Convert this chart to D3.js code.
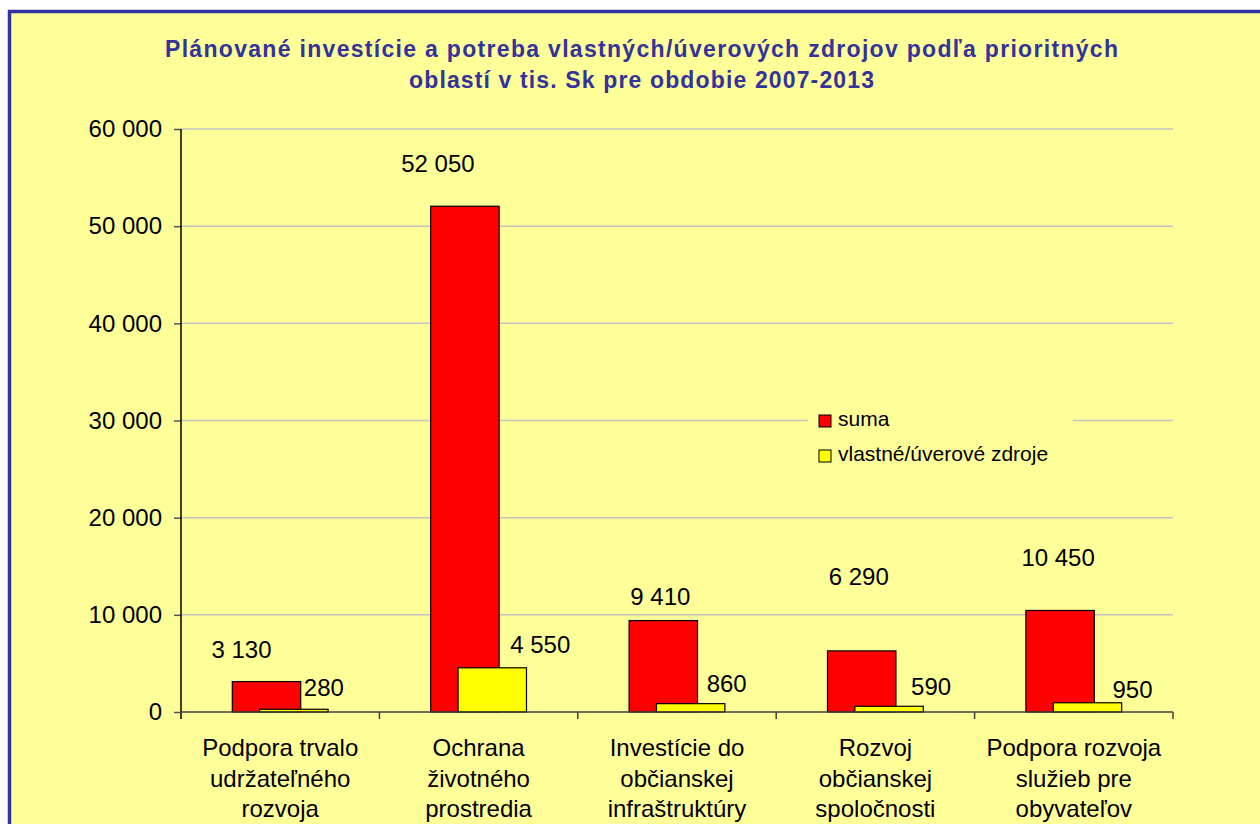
<!DOCTYPE html>
<html>
<head>
<meta charset="utf-8">
<script src="https://cdn.jsdelivr.net/npm/d3@7"></script>
<style>
    body { margin: 0; background: #fff; }
    svg { display: block; font-family: "Liberation Sans", Arial, sans-serif; }
</style>
</head>
<body>
<div id="chart"></div>
<script>
///////////////////////////
// DATA
///////////////////////////

const titleLines = [
    'Plánované investície a potreba vlastných/úverových zdrojov podľa prioritných',
    'oblastí v tis. Sk pre obdobie 2007-2013'
];

const categories = [
    ['Podpora trvalo', 'udržateľného', 'rozvoja'],
    ['Ochrana', 'životného', 'prostredia'],
    ['Investície do', 'občianskej', 'infraštruktúry'],
    ['Rozvoj', 'občianskej', 'spoločnosti'],
    ['Podpora rozvoja', 'služieb pre', 'obyvateľov']
];

const seriesNames = ['suma', 'vlastné/úverové zdroje'];
const suma = [3130, 52050, 9410, 6290, 10450];
const vlastne = [280, 4550, 860, 590, 950];
const yTicks = [0, 10000, 20000, 30000, 40000, 50000, 60000];

// label nudges (px) from the default spot above each bar, as placed by hand in the original
const sumaLabelShift = [[-25, -16], [-27, -26], [-3, -8], [-3, -58], [-2, -36]];
const vlastneLabelShift = [[30, -5], [48, -7], [36, -4], [42, -3], [45, 3]];

///////////////////////////
// LAYOUT
///////////////////////////

const width = 1260;
const height = 824;
const colors = ['#ff0000', '#ffff00'];

let svg = d3.select('#chart')
    .append('svg')
    .attr('width', width)
    .attr('height', height);

// chart area + frame
svg.append('rect')
    .attr('x', 9.5)
    .attr('y', 11.5)
    .attr('width', width + 20)
    .attr('height', height + 20)
    .style('fill', '#ffff99')
    .style('stroke', '#3333a0')
    .style('stroke-width', 3.5);

let x = d3.scaleBand()
    .domain(d3.range(categories.length))
    .range([181, 1173])
    .padding(0);

let y = d3.scaleLinear()
    .domain([0, 60000])
    .range([712, 129]);

// excel style: gap width 150%, overlap 60%
const barW = x.bandwidth() / 2.9;
const step = barW * 0.4;
const barX = (i, s) => { return x(i) + x.bandwidth() / 2 - barW / 2 + (s === 0 ? -step / 2 : step / 2) };

const fmt = (v) => { return d3.format(',')(v).replace(/,/g, ' ') };

///////////////////////////
// TITLE
///////////////////////////

svg.selectAll('.title')
    .data(titleLines)
    .enter().append('text')
    .attr('class', 'title')
    .attr('x', 641.5)
    .attr('y', (d, i) => { return 57 + i * 31 })
    .attr('text-anchor', 'middle')
    .attr('textLength', (d, i) => { return i === 0 ? 953 : 465 })
    .attr('lengthAdjust', 'spacing')
    .style('font-size', '23px')
    .style('font-weight', 'bold')
    .style('fill', '#333399')
    .text((d) => { return d });

///////////////////////////
// GRID + AXES
///////////////////////////

svg.selectAll('.grid')
    .data(yTicks.filter((d) => { return d > 0 }))
    .enter().append('line')
    .attr('class', 'grid')
    .attr('x1', 181)
    .attr('x2', 1173)
    .attr('y1', (d) => { return y(d) })
    .attr('y2', (d) => { return y(d) })
    .style('stroke', '#c4c4c4')
    .style('stroke-width', 1.5);

let yAxis = svg.append('g')
    .attr('transform', 'translate(181,0)')
    .call(d3.axisLeft(y).tickValues(yTicks).tickSize(7).tickPadding(12).tickFormat(fmt));

yAxis.select('.domain').remove();
yAxis.selectAll('.tick line').style('stroke', '#555').style('stroke-width', 1.5);
yAxis.selectAll('.tick text')
    .style('font-size', '24px')
    .style('fill', '#000')
    .style('font-family', '"Liberation Sans", Arial, sans-serif');

svg.append('line')
    .attr('x1', 181).attr('x2', 181)
    .attr('y1', y(60000)).attr('y2', y(0) + 7)
    .style('stroke', '#000')
    .style('stroke-width', 1.5);

///////////////////////////
// LEGEND (drawn before bars, covers grid)
///////////////////////////

svg.append('rect')
    .attr('x', 808)
    .attr('y', 395)
    .attr('width', 265)
    .attr('height', 82)
    .style('fill', '#ffff99');

let legend = svg.selectAll('.legend')
    .data(seriesNames)
    .enter().append('g')
    .attr('class', 'legend')
    .attr('transform', (d, i) => { return `translate(819,${415 + i * 35})` });

legend.append('rect')
    .attr('width', 12)
    .attr('height', 12)
    .style('fill', (d, i) => { return colors[i] })
    .style('stroke', '#000')
    .style('stroke-width', 1);

legend.append('text')
    .attr('x', 19)
    .attr('y', 11)
    .style('font-size', '21px')
    .style('fill', '#000')
    .text((d) => { return d });

///////////////////////////
// BARS
///////////////////////////

const series = [suma, vlastne];

series.forEach((values, s) => {
    svg.selectAll('.bar' + s)
        .data(values)
        .enter().append('rect')
        .attr('class', 'bar' + s)
        .attr('x', (d, i) => { return barX(i, s) })
        .attr('y', (d) => { return y(d) })
        .attr('width', barW)
        .attr('height', (d) => { return y(0) - y(d) })
        .style('fill', colors[s])
        .style('stroke', '#000')
        .style('stroke-width', 1.2);
});

// x axis drawn over bar bottoms
svg.append('line')
    .attr('x1', 181).attr('x2', 1173)
    .attr('y1', y(0)).attr('y2', y(0))
    .style('stroke', '#404040')
    .style('stroke-width', 1.5);

svg.selectAll('.xtick')
    .data(d3.range(categories.length + 1))
    .enter().append('line')
    .attr('class', 'xtick')
    .attr('x1', (d) => { return 181 + d * x.bandwidth() })
    .attr('x2', (d) => { return 181 + d * x.bandwidth() })
    .attr('y1', y(0))
    .attr('y2', y(0) + 7)
    .style('stroke', '#404040')
    .style('stroke-width', 1.5);

///////////////////////////
// LABELS
///////////////////////////

const shifts = [sumaLabelShift, vlastneLabelShift];

series.forEach((values, s) => {
    svg.selectAll('.label' + s)
        .data(values)
        .enter().append('text')
        .attr('class', 'label' + s)
        .attr('x', (d, i) => { return barX(i, s) + barW / 2 + shifts[s][i][0] })
        .attr('y', (d, i) => { return y(d) - 8 + shifts[s][i][1] })
        .attr('text-anchor', 'middle')
        .style('font-size', '24px')
        .style('fill', '#000')
        .text((d) => { return fmt(d) });
});

let cat = svg.selectAll('.cat')
    .data(categories)
    .enter().append('text')
    .attr('class', 'cat')
    .attr('text-anchor', 'middle')
    .style('font-size', '24px')
    .style('fill', '#000');

cat.selectAll('tspan')
    .data((d, i) => { return d.map((t) => { return { t: t, i: i } }) })
    .enter().append('tspan')
    .attr('x', (d) => { return x(d.i) + x.bandwidth() / 2 })
    .attr('y', (d, j) => { return 756 + j * 30.5 })
    .text((d) => { return d.t });
</script>
</body>
</html>
